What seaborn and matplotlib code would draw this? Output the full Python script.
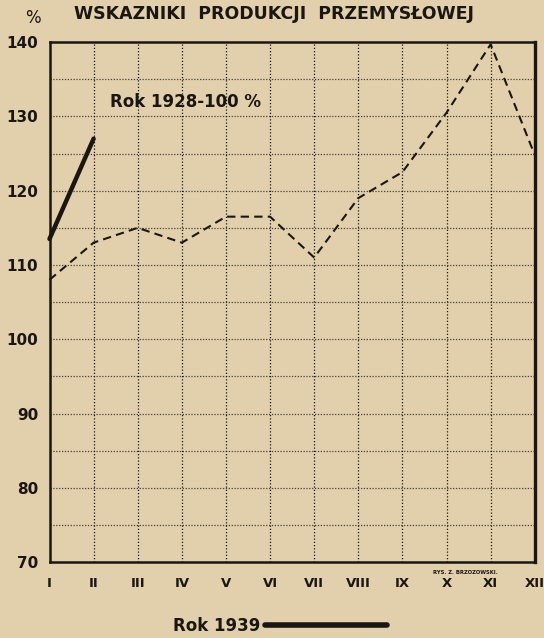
"""
Wskazniki produkcji przemyslowej (1928 = 100%)
"""

import numpy as np
import matplotlib.pyplot as plt
import pandas as pd
import seaborn as sns

sns.set_style("ticks")
plt.rcParams['font.family'] = ['DejaVu Sans']

paper = "#e2d0ac"
ink = "#1a1612"

# data
months = ["I", "II", "III", "IV", "V", "VI", "VII", "VIII", "IX", "X", "XI", "XII"]
prev_year = [108, 113, 115, 113, 116.5, 116.5, 111, 119, 122.5, 130.5, 139.7, 124.8]
year_1939 = [113.5, 127]
y_ticks = [70, 80, 90, 100, 110, 120, 130, 140]

df_prev = pd.DataFrame({"m": np.arange(1, 13), "v": prev_year})
df_1939 = pd.DataFrame({"m": np.arange(1, len(year_1939) + 1), "v": year_1939})

fig = plt.figure(figsize=(5.44, 6.38), dpi=100, facecolor=paper)
ax = fig.add_axes([0.091, 0.119, 0.892, 0.815])
ax.set_facecolor(paper)

# grid: every 5 % horizontally, every month vertically
for yv in np.arange(75, 140, 5):
    ax.axhline(yv, color="#4a4036", lw=0.9, ls=(0, (1, 1.3)), zorder=1)
for xv in np.arange(2, 12):
    ax.axvline(xv, color=ink, lw=0.9, ls=(0, (1, 1.6)), zorder=1)

sns.lineplot(data=df_prev, x="m", y="v", ax=ax, color=ink, lw=1.5,
             linestyle=(0, (4, 2.5)), zorder=3, clip_on=False)
sns.lineplot(data=df_1939, x="m", y="v", ax=ax, color=ink, lw=3.2,
             zorder=4, clip_on=False, label="Rok 1939")

ax.set(xlim=(1, 12), ylim=(70, 140), xlabel="", ylabel="")
ax.set_xticks(np.arange(1, 13))
ax.set_xticklabels(months, fontsize=9.5, fontweight="bold", color=ink)
ax.set_yticks(y_ticks)
ax.set_yticklabels([str(t) for t in y_ticks], fontsize=11, fontweight="bold", color=ink)
ax.tick_params(axis="x", length=0, pad=11)
ax.tick_params(axis="y", length=0, pad=8)

for s in ["left", "bottom", "top"]:
    ax.spines[s].set_linewidth(1.8)
    ax.spines[s].set_color(ink)
ax.spines["right"].set_visible(True)
ax.spines["right"].set_linewidth(2.4)
ax.spines["right"].set_color(ink)
ax.spines["top"].set_visible(True)

ax.text(2.37, 131.9, "Rok 1928-100 %", fontsize=12, fontweight="bold",
        color=ink, va="center", ha="left")

fig.text(0.504, 0.978, "WSKAZNIKI  PRODUKCJI  PRZEMYSŁOWEJ", fontsize=12.5,
         fontweight="bold", color=ink, ha="center", va="center")
fig.text(0.06, 0.972, "%", fontsize=12, color=ink, ha="center", va="center")
fig.text(0.855, 0.103, "RYS. Z. BRZOZOWSKI.", fontsize=3.8, fontweight="bold",
         color=ink, ha="center", va="center")

leg = ax.legend(loc="center right", bbox_to_anchor=(387 / 544, 1 - 626 / 638),
                bbox_transform=fig.transFigure, frameon=False, markerfirst=False,
                handlelength=7.3, handletextpad=0.3, borderpad=0, borderaxespad=0,
                prop={"size": 12, "weight": "bold"})
for t in leg.get_texts():
    t.set_color(ink)
for h in leg.get_lines():
    h.set_linewidth(4)

plt.savefig("out.png", dpi=100, facecolor=paper)
